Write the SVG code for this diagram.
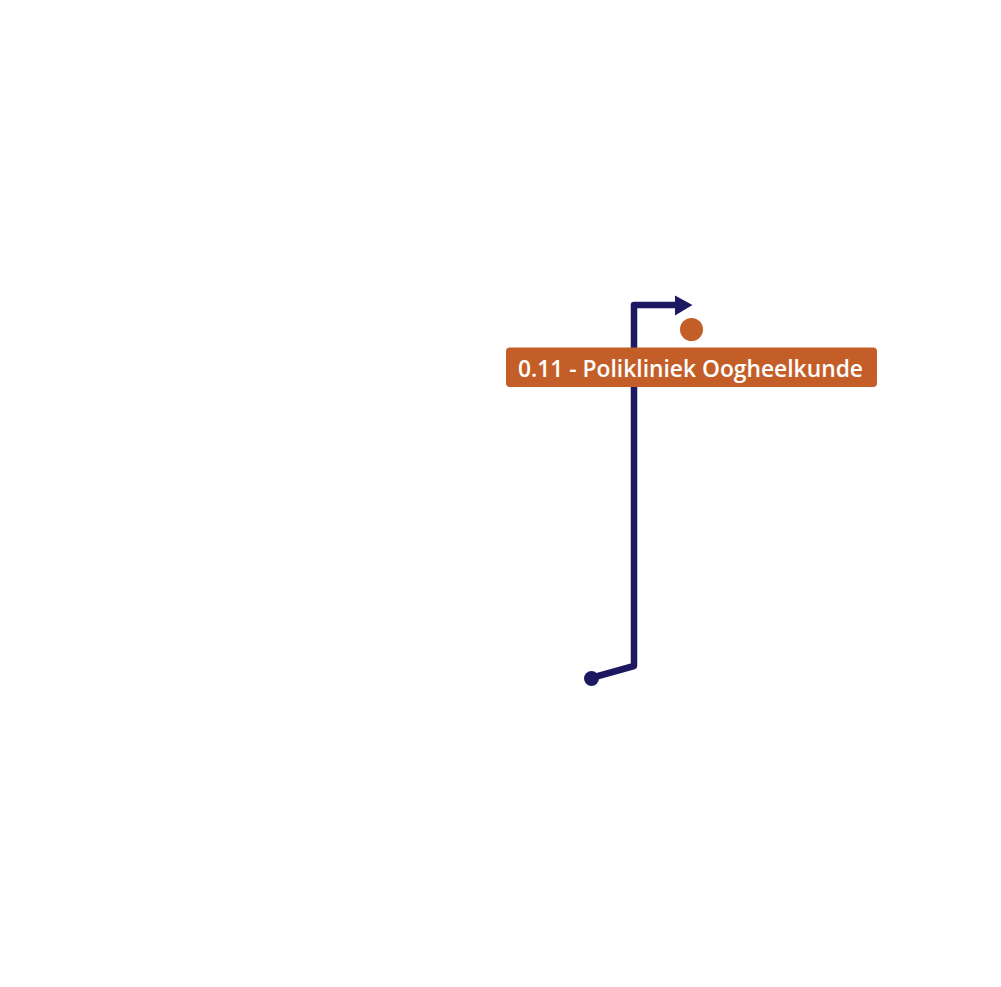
<svg xmlns="http://www.w3.org/2000/svg" width="1001" height="987" viewBox="0 0 1001 987">
<style>
.route{fill:none;stroke:#1d1960;stroke-width:6.5;stroke-linejoin:round;stroke-linecap:round}
.lbl{font-family:"Open Sans","Noto Sans",sans-serif;font-size:24px;fill:#ffffff;font-weight:600}
</style>
<rect width="1001" height="987" fill="#ffffff"/>
<g id="connectors">
<path class="route" d="M591,678 L634,666 L634,305 L676,305"/>
<path d="M675,295.5 L692.5,305 L675,315.5 Z" fill="#1d1960"/>
<circle cx="591.5" cy="678.5" r="7.5" fill="#1d1960"/>
</g>
<g id="destination">
<circle cx="691.5" cy="329.5" r="11.5" fill="#c45e28"/>
</g>
<g id="label">
<rect x="506" y="347.5" width="371" height="39.5" rx="4" fill="#c45e28"/>
<text class="lbl" x="518" y="377" textLength="345" lengthAdjust="spacingAndGlyphs">0.11 - Polikliniek Oogheelkunde</text>
</g>
</svg>
